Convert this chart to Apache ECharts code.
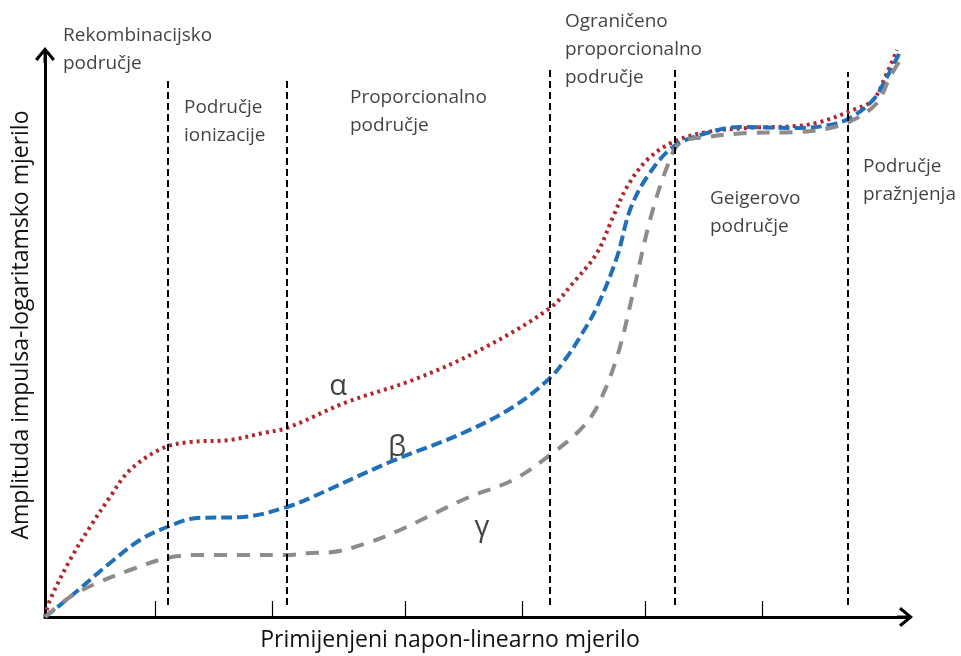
<!DOCTYPE html>
<html lang="hr">
<head>
    <meta charset="UTF-8">
    <title>Područja rada plinskog detektora</title>
    <script src="https://cdn.jsdelivr.net/npm/echarts@6/dist/echarts.min.js"></script>
    <style>
        html, body { margin: 0; padding: 0; background: #fff; }
        #main { width: 961px; height: 656px; }
    </style>
</head>
<body>
<div id="main"></div>
<script>
    // napon (x) i amplituda (y), procijenjeno sa slike
    var alphaX = [0, 5, 25, 45, 65, 85, 118, 145, 185, 218, 242, 302, 368, 435, 505, 528, 552, 568, 582, 602, 628, 662, 702, 752, 775, 808, 828, 842, 852];
    var alphaY = [0, 17, 57, 90, 120, 147, 169, 175, 177, 184, 189, 215, 237, 267, 309, 334, 364, 400, 430, 457, 475, 485, 489, 491, 495, 507, 517, 544, 567];

    var betaX = [0, 25, 65, 95, 122, 152, 198, 242, 265, 345, 418, 468, 505, 522, 535, 552, 572, 585, 602, 628, 662, 695, 752, 785, 805, 828, 842, 855];
    var betaY = [0, 20, 54, 77, 90, 99, 100, 110, 119, 155, 184, 210, 239, 260, 280, 310, 360, 407, 440, 470, 484, 490, 489, 492, 499, 517, 540, 565];

    var gammaX = [0, 25, 52, 85, 122, 152, 242, 265, 288, 322, 355, 422, 468, 505, 535, 552, 572, 588, 605, 622, 635, 662, 702, 752, 785, 808, 832, 845, 857];
    var gammaY = [0, 20, 34, 47, 59, 62, 62, 64, 65, 74, 87, 119, 137, 162, 187, 210, 260, 324, 397, 450, 474, 480, 484, 485, 489, 497, 514, 540, 560];

    // granice područja (isprekidane okomite linije)
    var borderX = [123, 242, 505, 630, 803];
    var borderTop = [539, 539, 549, 549, 545];
    var borderBottom = 12;

    // kratke oznake na osi x
    var tickX = [110, 227, 360, 477, 600, 717];

    // nazivi područja i položaj gornjeg lijevog kuta teksta
    var regionNames = [
        'Rekombinacijsko\npodručje',
        'Područje\nionizacije',
        'Proporcionalno\npodručje',
        'Ograničeno\nproporcionalno\npodručje',
        'Geigerovo\npodručje',
        'Područje\npražnjenja'
    ];
    var regionX = [18, 139, 305, 520, 665, 818];
    var regionY = [595, 523, 533, 609, 432, 464];

    var greekNames = ['α', 'β', 'γ'];
    var greekX = [293, 352, 437];
    var greekY = [230, 169, 89];

    function pairs(xs, ys) {
        var out = [];
        for (var i = 0; i < xs.length; i++) {
            out.push([xs[i], ys[i]]);
        }
        return out;
    }

    var lines = [];
    for (var i = 0; i < borderX.length; i++) {
        lines.push([
            { coord: [borderX[i], borderBottom] },
            { coord: [borderX[i], borderTop[i]] }
        ]);
    }

    var labelData = [];
    for (var i = 0; i < regionNames.length; i++) {
        labelData.push({ value: [regionX[i], regionY[i]], name: regionNames[i] });
    }
    var greekData = [];
    for (var i = 0; i < greekNames.length; i++) {
        greekData.push({ value: [greekX[i], greekY[i]], name: greekNames[i] });
    }

    // strelica (kvačica) s kratkim drškom
    var arrowPath = 'path://M10,0 L20,12 L17.5,14 L11.5,6.5 L11.5,16 L8.5,16 L8.5,6.5 L2.5,14 L0,12 Z';

    var myChart = echarts.init(document.getElementById('main'));
    var option = {
        animation: false,
        grid: { left: 45, right: 56, top: 55, bottom: 39, outerBoundsMode: 'none', containLabel: false },
        xAxis: {
            type: 'value',
            min: 0,
            max: 860,
            name: 'Primijenjeni napon-linearno mjerilo',
            nameLocation: 'middle',
            nameGap: 12,
            nameTextStyle: {
                fontFamily: 'Open Sans',
                fontSize: 23,
                color: '#111',
                padding: [0, 50, 0, 0]
            },
            splitLine: { show: false },
            axisLabel: { show: false },
            axisLine: {
                onZero: false,
                symbol: ['none', arrowPath],
                symbolSize: [24, 16],
                lineStyle: { color: '#000', width: 3 }
            },
            axisTick: {
                show: true,
                inside: true,
                length: 16,
                customValues: tickX,
                lineStyle: { color: '#000', width: 1.2 }
            }
        },
        yAxis: {
            type: 'value',
            min: 0,
            max: 562,
            name: 'Amplituda impulsa-logaritamsko mjerilo',
            nameLocation: 'middle',
            nameGap: 12,
            nameTextStyle: {
                fontFamily: 'Open Sans',
                fontSize: 23,
                color: '#111',
                padding: [0, 0, 0, 22]
            },
            splitLine: { show: false },
            axisLabel: { show: false },
            axisTick: { show: false },
            axisLine: {
                onZero: false,
                symbol: ['none', arrowPath],
                symbolSize: [20, 16],
                lineStyle: { color: '#000', width: 3 }
            }
        },
        series: [
            {
                name: 'granice',
                type: 'line',
                data: [],
                markLine: {
                    silent: true,
                    symbol: ['none', 'none'],
                    label: { show: false },
                    lineStyle: { color: '#000', width: 2, type: [7, 4] },
                    data: lines
                }
            },
            {
                name: 'α',
                type: 'line',
                data: pairs(alphaX, alphaY),
                smooth: 0.35,
                clip: false,
                showSymbol: false,
                lineStyle: { color: '#ad2a30', width: 4, type: [3, 4] }
            },
            {
                name: 'β',
                type: 'line',
                data: pairs(betaX, betaY),
                smooth: 0.35,
                clip: false,
                showSymbol: false,
                lineStyle: { color: '#1f70b8', width: 4, type: [11, 5] }
            },
            {
                name: 'γ',
                type: 'line',
                data: pairs(gammaX, gammaY),
                smooth: 0.35,
                clip: false,
                showSymbol: false,
                lineStyle: { color: '#8c8c8c', width: 4, type: [13, 10] }
            },
            {
                name: 'područja',
                type: 'scatter',
                data: labelData,
                symbolSize: 0,
                clip: false,
                silent: true,
                label: {
                    show: true,
                    position: [0, 0],
                    formatter: '{b}',
                    fontFamily: 'Open Sans',
                    fontSize: 19,
                    lineHeight: 28,
                    color: '#111',
                    align: 'left',
                    verticalAlign: 'top'
                }
            },
            {
                name: 'zračenje',
                type: 'scatter',
                data: greekData,
                symbolSize: 0,
                clip: false,
                silent: true,
                label: {
                    show: true,
                    position: 'inside',
                    formatter: '{b}',
                    fontFamily: 'Open Sans',
                    fontSize: 29,
                    color: '#111'
                }
            }
        ]
    };
    myChart.setOption(option);
</script>
</body>
</html>
